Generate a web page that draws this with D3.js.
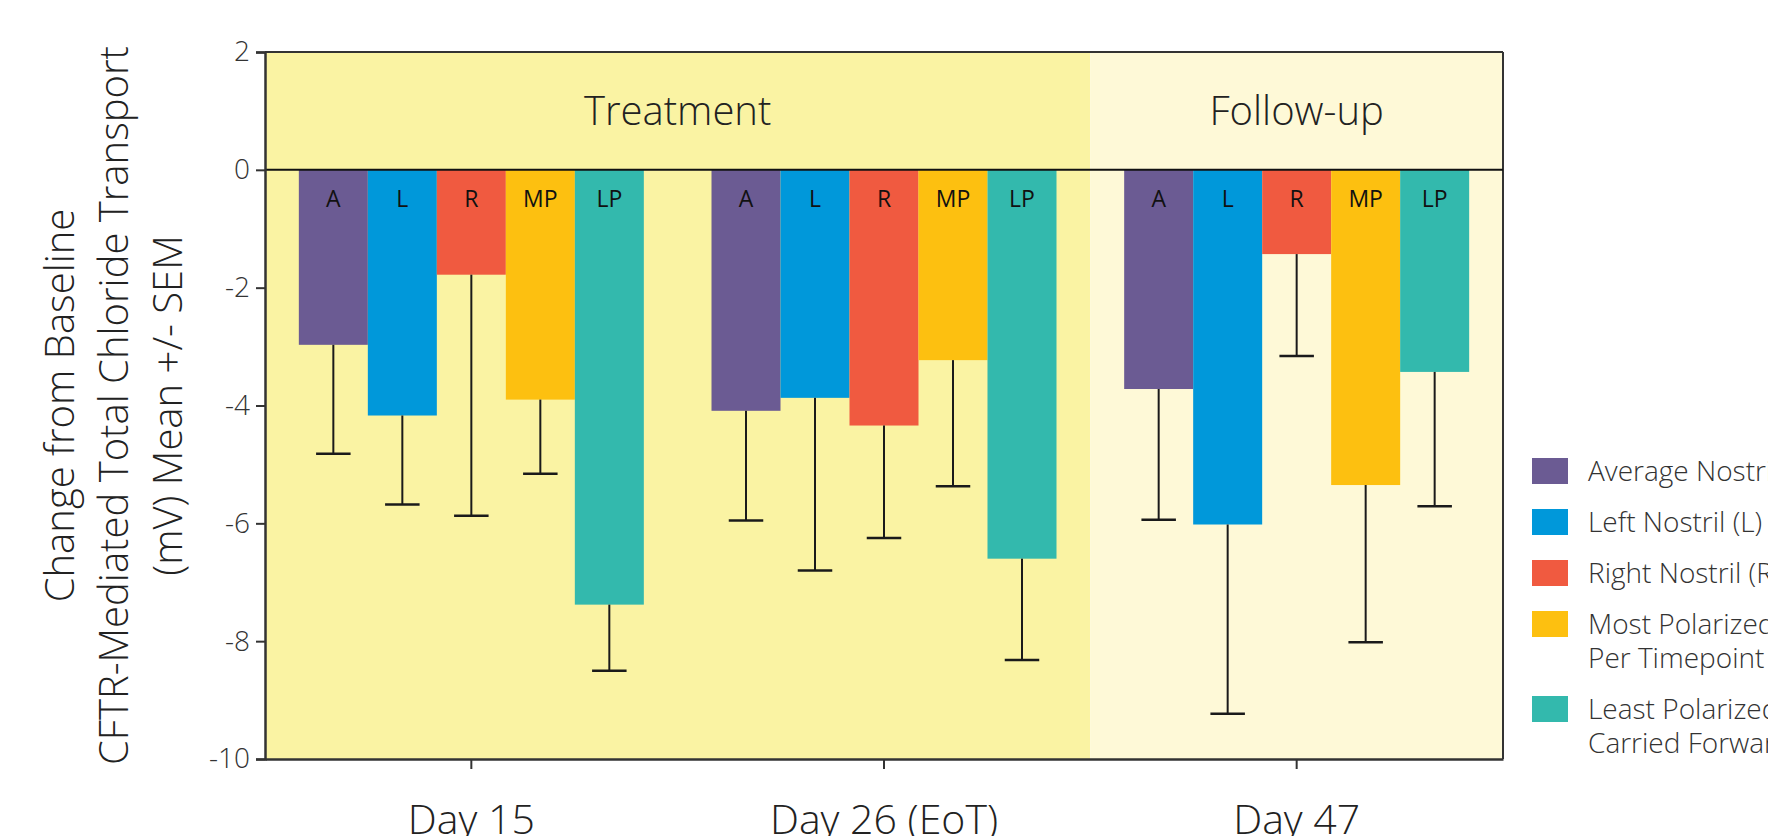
<!DOCTYPE html>
<html>
<head>
<meta charset="utf-8">
<script src="https://cdn.jsdelivr.net/npm/d3@7"></script>
<style>
  html, body { margin: 0; padding: 0; background: #ffffff; overflow: hidden; }
  svg { display: block; font-family: "Open Sans", "Noto Sans", sans-serif; }
</style>
</head>
<body>
<svg id="chart" width="1768" height="836"></svg>
<script>
// ---------- data ----------
const groups = ["Day 15", "Day 26 (EoT)", "Day 47"];
const seriesKeys = ["A", "L", "R", "MP", "LP"];
const seriesColors = ["#6B5B93", "#0098DA", "#F05A40", "#FDC010", "#33B9AD"];
const legendLabels = [
  ["Average Nostril (A)"],
  ["Left Nostril (L)"],
  ["Right Nostril (R)"],
  ["Most Polarized Nostril", "Per Timepoint (MP)"],
  ["Least Polarized Nostril", "Carried Forward (LP)"]
];
// mean change per series, in the order of groups
const meanA  = [-2.97, -4.09, -3.72];
const meanL  = [-4.17, -3.87, -6.02];
const meanR  = [-1.78, -4.34, -1.43];
const meanMP = [-3.90, -3.23, -5.35];
const meanLP = [-7.38, -6.60, -3.43];
// SEM per series (error bar drawn downward)
const semA  = [1.85, 1.86, 2.22];
const semL  = [1.51, 2.93, 3.21];
const semR  = [4.09, 1.91, 1.73];
const semMP = [1.26, 2.14, 2.67];
const semLP = [1.12, 1.72, 2.28];
const yTicks = [2, 0, -2, -4, -6, -8, -10];
const phases = ["Treatment", "Follow-up"];
const yTitle = ["Change from Baseline", "CFTR-Mediated Total Chloride Transport", "(mV) Mean +/- SEM"];

const means = [meanA, meanL, meanR, meanMP, meanLP];
const sems = [semA, semL, semR, semMP, semLP];
const rows = [];
groups.forEach((g, gi) => {
  seriesKeys.forEach((k, si) => {
    rows.push({ group: g, key: k, value: means[si][gi], sem: sems[si][gi] });
  });
});

// ---------- layout ----------
const svg = d3.select("#chart");
const plot = { left: 265, right: 1503, top: 52, bottom: 759 };

const x0 = d3.scaleBand().domain(groups).range([plot.left, plot.right])
  .paddingInner(0.164).paddingOuter(0.082);
const x1 = d3.scaleBand().domain(seriesKeys).range([0, x0.bandwidth()]);
const y = d3.scaleLinear().domain([-10, 2]).range([plot.bottom, plot.top]);
const color = d3.scaleOrdinal().domain(seriesKeys).range(seriesColors);

// phase backgrounds
const boundary = (x0(groups[1]) + x0.bandwidth() + x0(groups[2])) / 2;
const phaseExtents = [[plot.left, boundary], [boundary, plot.right]];
const phaseFill = ["#FAF3A3", "#FEF9D7"];
svg.append("g").selectAll("rect").data(phases).join("rect")
  .attr("x", (d, i) => phaseExtents[i][0])
  .attr("y", y(2))
  .attr("width", (d, i) => phaseExtents[i][1] - phaseExtents[i][0])
  .attr("height", y(-10) - y(2))
  .attr("fill", (d, i) => phaseFill[i]);

svg.append("g").selectAll("text").data(phases).join("text")
  .attr("x", (d, i) => (phaseExtents[i][0] + phaseExtents[i][1]) / 2)
  .attr("y", (y(2) + y(0)) / 2 + 14)
  .attr("text-anchor", "middle")
  .attr("font-size", 40)
  .attr("font-weight", 300)
  .attr("fill", "#222")
  .text(d => d);

// bars
const gBars = svg.append("g");
gBars.selectAll("rect").data(rows).join("rect")
  .attr("x", d => x0(d.group) + x1(d.key))
  .attr("y", d => y(Math.max(0, d.value)))
  .attr("width", x1.bandwidth())
  .attr("height", d => Math.abs(y(d.value) - y(0)))
  .attr("fill", d => color(d.key));

// error bars
const capW = x1.bandwidth() / 2;
const gErr = svg.append("g").attr("stroke", "#1a1a1a").attr("stroke-width", 2);
gErr.selectAll("line.v").data(rows).join("line").attr("class", "v")
  .attr("x1", d => x0(d.group) + x1(d.key) + x1.bandwidth() / 2)
  .attr("x2", d => x0(d.group) + x1(d.key) + x1.bandwidth() / 2)
  .attr("y1", d => y(d.value))
  .attr("y2", d => y(d.value - d.sem));
gErr.selectAll("line.c").data(rows).join("line").attr("class", "c")
  .attr("x1", d => x0(d.group) + x1(d.key) + x1.bandwidth() / 2 - capW / 2)
  .attr("x2", d => x0(d.group) + x1(d.key) + x1.bandwidth() / 2 + capW / 2)
  .attr("y1", d => y(d.value - d.sem))
  .attr("y2", d => y(d.value - d.sem))
  .attr("stroke-width", 2.5);

// bar letters
svg.append("g").selectAll("text").data(rows).join("text")
  .attr("x", d => x0(d.group) + x1(d.key) + x1.bandwidth() / 2)
  .attr("y", y(0) + 37)
  .attr("text-anchor", "middle")
  .attr("font-size", 23)
  .attr("fill", "#111")
  .text(d => d.key);

// frame: top & right borders, zero line
const frame = svg.append("g").attr("stroke", "#333").attr("stroke-width", 2).attr("fill", "none");
frame.append("line").attr("x1", plot.left).attr("x2", plot.right).attr("y1", y(2)).attr("y2", y(2));
frame.append("line").attr("x1", plot.right).attr("x2", plot.right).attr("y1", y(2)).attr("y2", y(-10));
frame.append("line").attr("x1", plot.left).attr("x2", plot.right).attr("y1", y(0)).attr("y2", y(0)).attr("stroke", "#111");

// y axis
const yAxis = svg.append("g").attr("transform", `translate(${plot.left},0)`)
  .call(d3.axisLeft(y).tickValues(yTicks).tickFormat(d => String(d)).tickSize(9).tickPadding(6));
yAxis.select(".domain").attr("stroke", "#333").attr("stroke-width", 2.5);
yAxis.selectAll(".tick line").attr("stroke", "#333").attr("stroke-width", 2);
yAxis.selectAll(".tick text").attr("font-size", 28).attr("font-weight", 300).attr("fill", "#333")
  .attr("font-family", "'Open Sans', sans-serif");

// x axis
const xAxis = svg.append("g").attr("transform", `translate(0,${plot.bottom})`)
  .call(d3.axisBottom(x0).tickSize(10).tickPadding(36).tickSizeOuter(0));
xAxis.select(".domain").attr("stroke", "#333").attr("stroke-width", 2.5);
xAxis.selectAll(".tick line").attr("stroke", "#333").attr("stroke-width", 2);
xAxis.selectAll(".tick text").attr("font-size", 41).attr("font-weight", 300).attr("fill", "#222")
  .attr("font-family", "'Open Sans', sans-serif");

// y title
const yt = svg.append("text")
  .attr("transform", `translate(0,${(plot.top + plot.bottom) / 2}) rotate(-90)`)
  .attr("text-anchor", "middle")
  .attr("font-size", 40)
  .attr("font-weight", 300)
  .attr("fill", "#222");
yt.selectAll("tspan").data(yTitle).join("tspan")
  .attr("x", 0)
  .attr("y", (d, i) => 74 + i * 54)
  .text(d => d);

// legend
const legend = svg.append("g").attr("font-size", 28).attr("font-weight", 300).attr("fill", "#333");
let ly = 471;
legendLabels.forEach((lines, i) => {
  legend.append("rect").attr("x", 1532).attr("y", ly - 13).attr("width", 36).attr("height", 26)
    .attr("fill", seriesColors[i]);
  lines.forEach((t, j) => {
    legend.append("text").attr("x", 1588).attr("y", ly + 10 + j * 34).text(t);
  });
  ly += 51 + (lines.length - 1) * 34;
});
</script>
</body>
</html>
